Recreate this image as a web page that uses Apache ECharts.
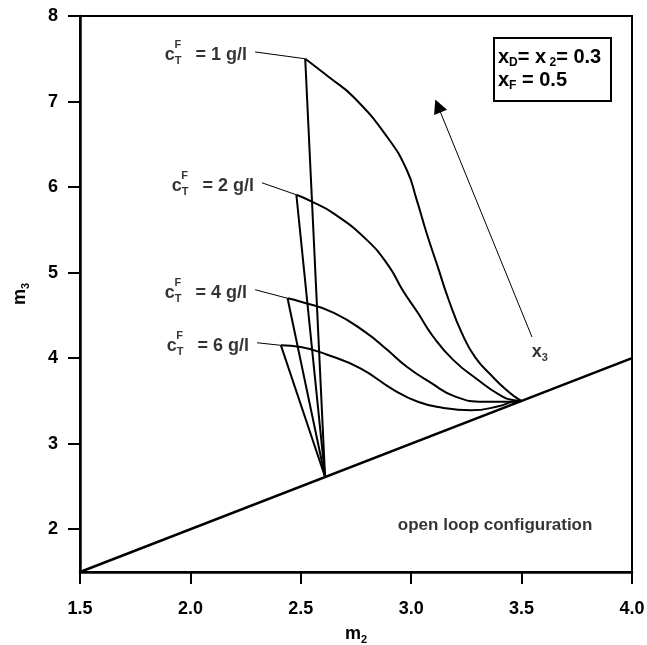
<!DOCTYPE html>
<html>
<head>
<meta charset="utf-8">
<script src="https://cdn.jsdelivr.net/npm/echarts@6/dist/echarts.min.js"></script>
<style>
html, body { margin: 0; padding: 0; background: #fff; }
#main { width: 647px; height: 645px; }
</style>
</head>
<body>
<div id="main"></div>
<script>
// values, as [m2, m3]
const kink = [2.61, 2.61];
const pinch = [3.5, 3.5];
const diagonal = [[1.5, 1.5], [4.0, 4.0]];

const curve1 = [[2.52, 7.50], [2.63, 7.28], [2.74, 7.05], [2.89, 6.59], [2.98, 6.20],
  [3.025, 5.85], [3.07, 5.46], [3.12, 5.07], [3.17, 4.68], [3.23, 4.29], [3.29, 4.01],
  [3.37, 3.78], [3.43, 3.63], [3.48, 3.53]];
const curve2 = [[2.48, 5.91], [2.55, 5.83], [2.65, 5.69], [2.80, 5.38], [2.90, 5.07], [2.96, 4.80],
  [3.03, 4.53], [3.10, 4.25], [3.19, 3.98], [3.30, 3.75], [3.40, 3.57], [3.46, 3.51]];
const curve4 = [[2.44, 4.70], [2.50, 4.66], [2.65, 4.53], [2.80, 4.29], [2.89, 4.10], [2.98, 3.90],
  [3.09, 3.71], [3.20, 3.55], [3.33, 3.49], [3.46, 3.49]];
const curve6 = [[2.41, 4.15], [2.50, 4.13], [2.62, 4.04], [2.77, 3.88], [2.92, 3.63], [3.03, 3.49],
  [3.14, 3.42], [3.27, 3.39], [3.40, 3.44], [3.46, 3.49]];

const curves = [curve1, curve2, curve4, curve6];
const concentrations = ['1', '2', '4', '6'];
const xTicks = [1.5, 2.0, 2.5, 3.0, 3.5, 4.0];
const yTicks = [2, 3, 4, 5, 6, 7, 8];

// where the leader lines of the c_T^F labels start, and the x3 arrow
const leaderStarts = [[2.293, 7.58], [2.324, 6.05], [2.293, 4.80], [2.302, 4.18]];
const arrowFrom = [3.547, 4.247];
const arrowTo = [3.121, 6.948];
const x3Pos = [[3.583, 4.07]];
const regionPos = [[3.38, 2.05]];

const FONT = '"Liberation Sans", Arial, Helvetica, sans-serif';
const chart = echarts.init(document.getElementById('main'));

function tok(size, lh, va, extra) {
  return Object.assign({ fontSize: size, lineHeight: lh, verticalAlign: va, fontFamily: FONT, fontWeight: 'bold', color: '#000' }, extra || {});
}

const series = [];
series.push({
  type: 'line', data: diagonal, symbol: 'none', silent: true,
  lineStyle: { color: '#000', width: 2.5 }
});
curves.forEach(function (c) {
  series.push({
    type: 'line', data: [kink, c[0]], symbol: 'none', silent: true,
    lineStyle: { color: '#000', width: 2 }
  });
  series.push({
    type: 'line', data: c.concat([pinch]), symbol: 'none', smooth: 0.5, silent: true,
    lineStyle: { color: '#000', width: 2 }
  });
});
leaderStarts.forEach(function (p, i) {
  series.push({
    type: 'line', data: [p, curves[i][0]], symbol: 'none', silent: true,
    lineStyle: { color: '#000', width: 1 }
  });
});
// c_T^F = n g/l labels
series.push({
  type: 'scatter', data: leaderStarts, symbolSize: 0, silent: true,
  label: {
    show: true, position: 'left', distance: 8, offset: [0, 3], color: '#000',
    fontFamily: FONT, fontWeight: 'bold',
    formatter: function (p) { return '{c|c}{t|T}{e|= ' + concentrations[p.dataIndex] + ' g/l}'; },
    rich: {
      c: tok(18, 24, 'middle'),
      t: tok(11, 11, 'bottom'),
      e: tok(18, 24, 'middle', { padding: [0, 0, 0, 14] })
    }
  }
});
series.push({
  type: 'scatter', data: leaderStarts, symbolSize: 0, silent: true,
  label: {
    show: true, position: 'left', distance: 8, offset: [-66, -7], color: '#000',
    fontFamily: FONT, fontWeight: 'bold', fontSize: 11, formatter: 'F'
  }
});
// x3 arrow
series.push({
  type: 'line', data: [], silent: true,
  markLine: {
    silent: true, animation: false,
    symbol: ['none', 'triangle'], symbolSize: 14,
    lineStyle: { color: '#000', width: 1, type: 'solid' },
    label: { show: false },
    data: [[{ coord: arrowFrom }, { coord: arrowTo }]]
  }
});
series.push({
  type: 'scatter', data: x3Pos, symbolSize: 0, silent: true,
  label: {
    show: true, position: 'inside', color: '#000',
    formatter: '{x|x}{s|3}',
    rich: { x: tok(18, 22, 'middle'), s: tok(11, 10, 'bottom') }
  }
});
series.push({
  type: 'scatter', data: regionPos, symbolSize: 0, silent: true,
  label: {
    show: true, position: 'inside', color: '#000', fontFamily: FONT, fontWeight: 'bold', fontSize: 17,
    formatter: 'open loop configuration'
  }
});

const option = {
  backgroundColor: '#fff',
  animation: false,
  grid: {
    left: 80, right: 15, top: 16, bottom: 73,
    outerBoundsMode: 'none', containLabel: false,
    show: true, borderColor: '#000', borderWidth: 2
  },
  xAxis: {
    type: 'value', min: 1.5, max: 4.0, interval: 0.5,
    name: '{m|m}{s|2}', nameLocation: 'middle', nameGap: 51,
    nameTextStyle: { rich: { m: tok(18, 22, 'middle'), s: tok(11, 10, 'bottom') } },
    axisLine: { lineStyle: { color: '#000', width: 2.5 } },
    axisTick: { length: 12, lineStyle: { color: '#000', width: 2 } },
    axisLabel: {
      color: '#000', fontSize: 18, fontFamily: FONT, fontWeight: 'bold', margin: 28,
      formatter: function (v) { return v.toFixed(1); }
    },
    splitLine: { show: false }
  },
  yAxis: {
    type: 'value', min: 1.5, max: 8,
    name: '{m|m}{s|3}', nameLocation: 'middle', nameGap: 49, nameRotate: 90,
    nameTextStyle: { rich: { m: tok(18, 22, 'middle'), s: tok(11, 10, 'bottom') } },
    axisLine: { lineStyle: { color: '#000', width: 2.5 } },
    axisTick: { length: 12, customValues: yTicks, lineStyle: { color: '#000', width: 2 } },
    axisLabel: {
      color: '#000', fontSize: 18, fontFamily: FONT, fontWeight: 'bold', margin: 22, customValues: yTicks
    },
    splitLine: { show: false }
  },
  graphic: [{
    type: 'group', right: 35, top: 37,
    children: [{
      type: 'rect', shape: { x: 0, y: 0, width: 117, height: 63 },
      style: { fill: '#fff', stroke: '#000', lineWidth: 2 }
    }, {
      type: 'text', x: 4, y: 8,
      style: {
        text: '{a|x}{s|D}{a|= x}{s| 2}{a|= 0.3}\n{a|x}{s|F}{a| = 0.5}',
        fill: '#000',
        rich: {
          a: { fontSize: 20, lineHeight: 23, verticalAlign: 'middle', fontFamily: FONT, fontWeight: 'bold', fill: '#000' },
          s: { fontSize: 12, lineHeight: 10, verticalAlign: 'bottom', fontFamily: FONT, fontWeight: 'bold', fill: '#000' }
        }
      }
    }]
  }],
  series: series
};
chart.setOption(option);
</script>
</body>
</html>
